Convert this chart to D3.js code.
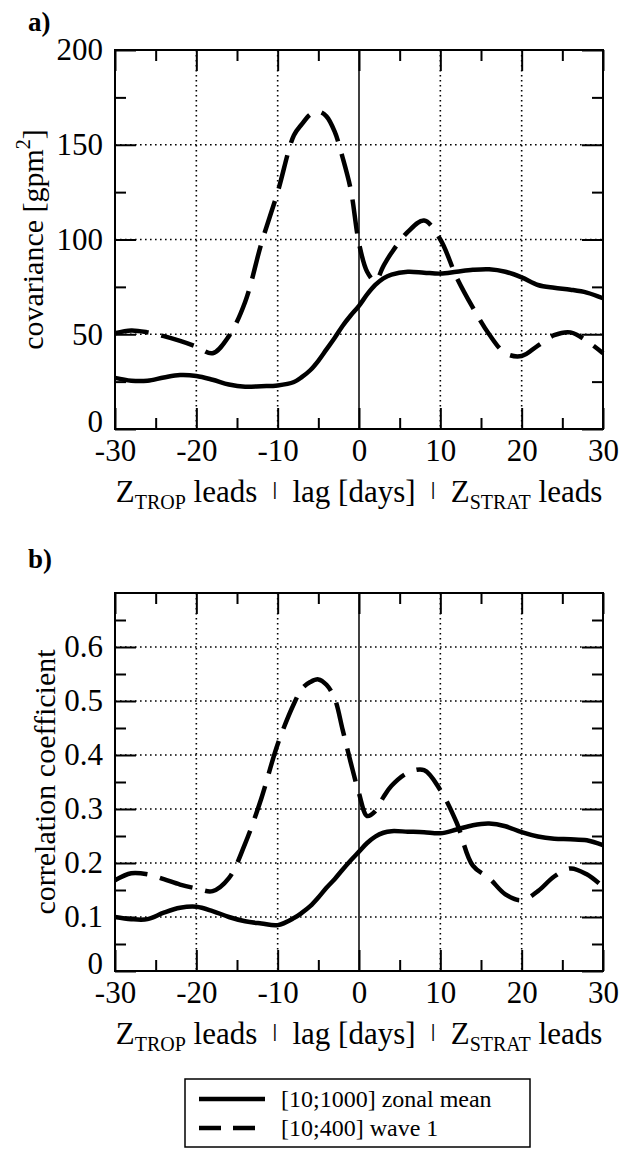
<!DOCTYPE html>
<html>
<head>
<meta charset="utf-8">
<script src="https://cdn.jsdelivr.net/npm/d3@7"></script>
<style>
  body { margin: 0; background: white; }
  svg { display: block; font-family: "Liberation Serif", "Times New Roman", serif; }
  .xlabel { white-space: pre; }
</style>
</head>
<body>
<div id="chart"></div>
<script>
// lag in days (negative: Z_TROP leads, positive: Z_STRAT leads)
var lags = [-30, -28, -26, -24, -22, -20, -18, -16, -14, -12, -10, -8,
            -7, -6, -5, -4, -3, -2, -1, 0, 1, 2, 3, 4,
            6, 8, 10, 12, 14, 16, 18, 20, 22, 24, 26, 28, 30];

// a) covariance [gpm^2]
var covZonal = [27, 25.5, 25.5, 27.2, 28.5, 28, 26, 23.5, 22.3, 22.6, 23, 24.8,
                27.5, 31, 36, 42, 48, 54.5, 60, 65, 71, 76, 79.5, 81.5,
                83, 82.5, 82, 83, 84, 84.3, 83, 80, 76, 74.5, 73.5, 72, 69];
var covWave1 = [50.5, 52, 51, 49, 46.5, 43.5, 40, 49, 67, 98, 125, 155,
                161, 166, 167.5, 165, 157, 143, 126, 98, 83, 78, 86, 93,
                104, 110, 100, 80, 64, 50, 40, 38.5, 44, 49.5, 51, 46.5, 40];

// b) correlation coefficient
var corZonal = [0.100, 0.096, 0.096, 0.108, 0.117, 0.119, 0.111, 0.100, 0.092, 0.088, 0.085, 0.098,
                0.108, 0.120, 0.136, 0.154, 0.170, 0.188, 0.205, 0.221, 0.237, 0.249, 0.256, 0.259,
                0.258, 0.257, 0.255, 0.262, 0.270, 0.273, 0.268, 0.257, 0.249, 0.245, 0.244, 0.242, 0.233];
var corWave1 = [0.168, 0.181, 0.179, 0.170, 0.160, 0.153, 0.148, 0.172, 0.236, 0.320, 0.420, 0.495,
                0.523, 0.535, 0.540, 0.530, 0.505, 0.446, 0.385, 0.329, 0.287, 0.296, 0.322, 0.343,
                0.367, 0.372, 0.335, 0.275, 0.195, 0.172, 0.142, 0.131, 0.148, 0.175, 0.190, 0.179, 0.156];

var lagTicks = [-30, -20, -10, 0, 10, 20, 30];
var lagMinor = [-25, -15, -5, 5, 15, 25];
var covTicks = [0, 50, 100, 150, 200];
var covMinor = [25, 75, 125, 175];
var corTicks = [0, 0.1, 0.2, 0.3, 0.4, 0.5, 0.6];
var corMinor = [0.05, 0.15, 0.25, 0.35, 0.45, 0.55, 0.65];
var legendLabels = ["[10;1000] zonal mean", "[10;400] wave 1"];

var W = 619, H = 1152;
var left = 115, right = 603;
var dash = "34,13";

var svg = d3.select('#chart').append('svg')
  .attr('width', W)
  .attr('height', H)
  .style('background', 'white');

var x = d3.scaleLinear().domain([-30, 30]).range([left, right]);

function panel(p) {
  var y = d3.scaleLinear().domain(p.domain).range([p.bottom, p.top]);
  var g = svg.append('g');

  // dotted grid
  g.selectAll('line.vg').data([-20, -10, 10, 20]).enter().append('line')
    .attr('x1', d => x(d)).attr('x2', d => x(d))
    .attr('y1', p.top).attr('y2', p.bottom)
    .attr('stroke', 'black').attr('stroke-width', 1.6).attr('stroke-dasharray', '1.6,3.4');
  g.selectAll('line.hg').data(p.grid).enter().append('line')
    .attr('x1', left).attr('x2', right)
    .attr('y1', d => y(d)).attr('y2', d => y(d))
    .attr('stroke', 'black').attr('stroke-width', 1.6).attr('stroke-dasharray', '1.6,3.4');
  // zero lag line
  g.append('line')
    .attr('x1', x(0)).attr('x2', x(0)).attr('y1', p.top).attr('y2', p.bottom)
    .attr('stroke', 'black').attr('stroke-width', 1.5);

  var line = d3.line()
    .x((d, i) => x(lags[i]))
    .y(d => y(d))
    .curve(d3.curveCatmullRom.alpha(0.5));

  g.append('path').attr('d', line(p.zonal))
    .attr('fill', 'none').attr('stroke', 'black').attr('stroke-width', 4.5);
  g.append('path').attr('d', line(p.wave))
    .attr('fill', 'none').attr('stroke', 'black').attr('stroke-width', 4.5)
    .attr('stroke-dasharray', dash);

  // frame
  g.append('rect')
    .attr('x', left).attr('y', p.top)
    .attr('width', right - left).attr('height', p.bottom - p.top)
    .attr('fill', 'none').attr('stroke', 'black').attr('stroke-width', 2);

  // axes, ticks pointing inward
  function styleAxis(a) {
    a.select('.domain').remove();
    a.selectAll('line').attr('stroke-width', 2);
    a.attr('font-family', null).attr('font-size', 31);
  }
  g.append('g').attr('transform', 'translate(0,' + p.bottom + ')')
    .call(d3.axisBottom(x).tickValues(lagTicks).tickSize(-21).tickPadding(10).tickFormat(d => String(d)))
    .call(styleAxis);
  g.append('g').attr('transform', 'translate(0,' + p.bottom + ')')
    .call(d3.axisBottom(x).tickValues(lagMinor).tickSize(-11).tickFormat(''))
    .call(styleAxis);
  g.append('g').attr('transform', 'translate(0,' + p.top + ')')
    .call(d3.axisTop(x).tickValues(lagTicks).tickSize(-21).tickFormat(''))
    .call(styleAxis);
  g.append('g').attr('transform', 'translate(0,' + p.top + ')')
    .call(d3.axisTop(x).tickValues(lagMinor).tickSize(-11).tickFormat(''))
    .call(styleAxis);
  var yAxis = g.append('g').attr('transform', 'translate(' + left + ',0)')
    .call(d3.axisLeft(y).tickValues(p.ticks).tickSize(-21).tickPadding(12).tickFormat(p.fmt))
    .call(styleAxis);
  // lift the bottom "0" a touch so it clears the x tick labels
  yAxis.selectAll('.tick text').filter(d => d === 0).attr('dy', '0.08em');
  g.append('g').attr('transform', 'translate(' + left + ',0)')
    .call(d3.axisLeft(y).tickValues(p.minor).tickSize(-11).tickFormat(''))
    .call(styleAxis);
  g.append('g').attr('transform', 'translate(' + right + ',0)')
    .call(d3.axisRight(y).tickValues(p.ticks).tickSize(-21).tickFormat(''))
    .call(styleAxis);
  g.append('g').attr('transform', 'translate(' + right + ',0)')
    .call(d3.axisRight(y).tickValues(p.minor).tickSize(-11).tickFormat(''))
    .call(styleAxis);

  // y label
  var yl = g.append('text')
    .attr('transform', 'translate(' + p.ylabelX + ',' + (p.top + p.bottom) / 2 + ') rotate(-90)')
    .attr('text-anchor', 'middle')
    .attr('font-size', 30);
  yl.append('tspan').text(p.ylabel);
  if (p.sup) {
    yl.append('tspan').attr('font-size', 20).attr('dy', -13).text(p.sup);
    yl.append('tspan').attr('dy', 13).text(']');
  }

  // x label
  var xl = g.append('text')
    .attr('class', 'xlabel')
    .attr('x', (left + right) / 2).attr('y', p.bottom + 73)
    .attr('text-anchor', 'middle')
    .attr('font-size', 31);
  xl.append('tspan').text('Z');
  xl.append('tspan').attr('font-size', 20).attr('dy', 7).text('TROP');
  xl.append('tspan').attr('dy', -7).text(' leads  ');
  xl.append('tspan').attr('font-size', 19).attr('font-weight', 'bold').attr('dy', -7).text('|');
  xl.append('tspan').attr('dy', 7).text('  lag [days]  ');
  xl.append('tspan').attr('font-size', 19).attr('font-weight', 'bold').attr('dy', -7).text('|');
  xl.append('tspan').attr('dy', 7).text('  Z');
  xl.append('tspan').attr('font-size', 20).attr('dy', 7).text('STRAT');
  xl.append('tspan').attr('dy', -7).text(' leads');

  // panel letter
  g.append('text')
    .attr('x', 28).attr('y', p.letterY)
    .attr('font-size', 27).attr('font-weight', 'bold')
    .text(p.letter);
}

panel({
  top: 50, bottom: 429, domain: [0, 200],
  ticks: covTicks, minor: covMinor, grid: [50, 100, 150],
  fmt: d3.format('d'),
  zonal: covZonal, wave: covWave1,
  ylabel: 'covariance [gpm', sup: '2', ylabelX: 43,
  letter: 'a)', letterY: 31
});

panel({
  top: 593, bottom: 971, domain: [0, 0.7],
  ticks: corTicks, minor: corMinor, grid: [0.1, 0.2, 0.3, 0.4, 0.5, 0.6],
  fmt: d => d === 0 ? '0' : d3.format('.1f')(d),
  zonal: corZonal, wave: corWave1,
  ylabel: 'correlation coefficient', sup: null, ylabelX: 55,
  letter: 'b)', letterY: 568
});

// legend
var lg = svg.append('g').attr('transform', 'translate(185,1079)');
lg.append('rect')
  .attr('x', 0).attr('y', 0).attr('width', 345).attr('height', 68)
  .attr('fill', 'white').attr('stroke', 'black').attr('stroke-width', 1.5);
legendLabels.forEach(function(label, i) {
  var yy = 20 + i * 29;
  lg.append('line')
    .attr('x1', 14).attr('x2', 80).attr('y1', yy).attr('y2', yy)
    .attr('stroke', 'black').attr('stroke-width', 4.5)
    .attr('stroke-dasharray', i === 1 ? '22,12' : null);
  lg.append('text')
    .attr('x', 96).attr('y', yy + 8)
    .attr('font-size', 24)
    .text(label);
});
</script>
</body>
</html>
